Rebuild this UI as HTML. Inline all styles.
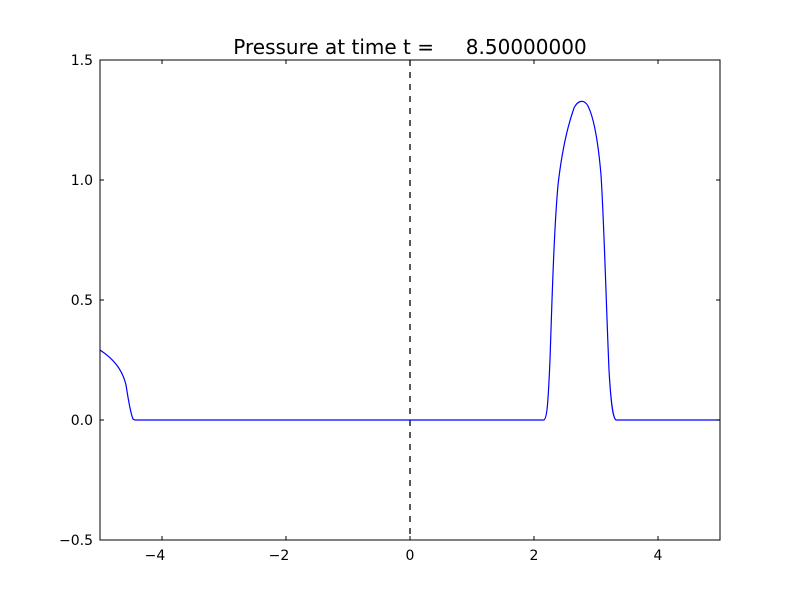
<!DOCTYPE html>
<html><head><meta charset="utf-8"><style>body{margin:0;background:#fff}svg{display:block}</style></head><body>
<svg width="800" height="600" xmlns="http://www.w3.org/2000/svg" font-family="DejaVu Sans, Liberation Sans, sans-serif">
<rect width="800" height="600" fill="#fff"/>
<line x1="410" y1="60" x2="410" y2="540" stroke="#000" stroke-dasharray="6,6" stroke-width="1.3"/>
<path d="M100,350 C112,358 122,368 126,385 C128,397 130,412 133,419 L135,420 L544,420 C547,418 548,405 550,360 C552,300 554,230 558,185 C562,150 568,125 574,108 C578,100 584,99 588,106 C594,118 598,140 601,175 C604,220 606,300 609,370 C611,405 613,418 616,420 L720,420" fill="none" stroke="#0000ff" stroke-width="1.2"/>
<rect x="100" y="60" width="620" height="480" fill="none" stroke="#000" stroke-width="1"/>
<g stroke="#000" stroke-width="1">
<line x1="162" y1="540" x2="162" y2="536"/><line x1="162" y1="60" x2="162" y2="64"/>
<line x1="286" y1="540" x2="286" y2="536"/><line x1="286" y1="60" x2="286" y2="64"/>
<line x1="410" y1="540" x2="410" y2="536"/><line x1="410" y1="60" x2="410" y2="64"/>
<line x1="534" y1="540" x2="534" y2="536"/><line x1="534" y1="60" x2="534" y2="64"/>
<line x1="658" y1="540" x2="658" y2="536"/><line x1="658" y1="60" x2="658" y2="64"/>
<line x1="100" y1="180" x2="104" y2="180"/><line x1="720" y1="180" x2="716" y2="180"/>
<line x1="100" y1="300" x2="104" y2="300"/><line x1="720" y1="300" x2="716" y2="300"/>
<line x1="100" y1="420" x2="104" y2="420"/><line x1="720" y1="420" x2="716" y2="420"/>
</g>
<g font-size="14" text-anchor="middle" fill="#000">
<text x="155" y="560">−4</text><text x="279" y="560">−2</text><text x="410" y="560">0</text><text x="534" y="560">2</text><text x="658" y="560">4</text>
</g>
<g font-size="14" text-anchor="end" fill="#000">
<text x="93" y="65">1.5</text><text x="93" y="185">1.0</text><text x="93" y="305">0.5</text><text x="93" y="425">0.0</text><text x="93" y="545">−0.5</text>
</g>
<text x="410" y="54" font-size="20" text-anchor="middle" style="white-space:pre">Pressure at time t =     8.50000000</text>
</svg>
</body></html>
